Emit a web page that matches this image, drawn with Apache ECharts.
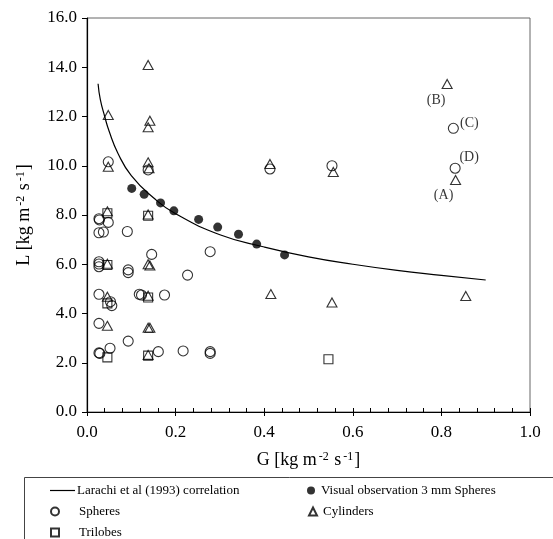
<!DOCTYPE html>
<html><head><meta charset="utf-8">
<script src="https://cdn.jsdelivr.net/npm/echarts@6/dist/echarts.min.js"></script>
<style>html,body{margin:0;padding:0;background:#fff}#c{width:553px;height:539px}</style>
</head><body><div id="c"></div>
<script>
// ---- data ----
const larachiG = [0.025,0.03,0.04,0.05,0.07,0.1,0.15,0.2,0.3,0.4,0.5,0.6,0.7,0.8,0.9];
const larachiL = [13.33,12.7,12.0,11.4,10.5,9.6,8.7,8.05,7.2,6.7,6.3,6.0,5.75,5.55,5.36];

const visualObs = [[0.101,9.08],[0.129,8.84],[0.166,8.49],[0.196,8.17],[0.252,7.82],[0.295,7.51],[0.342,7.22],[0.383,6.82],[0.446,6.38]];

const spheres = [[0.048,10.16],[0.138,9.83],[0.413,9.87],[0.553,10.0],
  [0.027,7.85],[0.028,7.80],[0.048,7.70],[0.027,7.28],[0.037,7.31],[0.091,7.33],
  [0.146,6.40],[0.027,6.10],[0.027,6.01],[0.027,5.90],[0.093,5.77],[0.093,5.66],
  [0.227,5.56],[0.278,6.51],[0.027,4.78],[0.053,4.48],[0.056,4.32],[0.118,4.78],
  [0.123,4.75],[0.175,4.75],[0.027,3.60],[0.093,2.88],[0.027,2.40],[0.029,2.38],
  [0.052,2.59],[0.161,2.45],[0.217,2.48],[0.278,2.45],[0.278,2.38],
  [0.827,11.52],[0.831,9.90]];

const cylinders = [[0.048,12.06],[0.048,9.96],[0.138,14.09],[0.142,11.83],[0.138,11.56],
  [0.138,10.14],[0.140,9.90],[0.046,8.15],[0.138,8.02],[0.046,6.02],[0.138,6.0],
  [0.142,5.95],[0.046,4.68],[0.138,4.72],[0.046,3.50],[0.138,3.42],[0.142,3.42],
  [0.138,2.32],[0.413,10.07],[0.556,9.75],[0.415,4.79],[0.553,4.45],
  [0.813,13.32],[0.832,9.42],[0.855,4.71]];

const trilobes = [[0.046,8.07],[0.138,7.97],[0.046,5.97],[0.046,4.41],[0.138,4.65],
  [0.046,2.22],[0.138,2.29],[0.545,2.14]];

const annLabels = ['(A)','(B)','(C)','(D)'];
const annPoints = [[0.832,9.42],[0.813,13.32],[0.827,11.52],[0.831,9.90]];

const xTicks = {min:0, max:1, interval:0.2};
const yTicks = {min:0, max:16, interval:2};
const seriesNames = ['Larachi et al (1993) correlation','Visual observation 3 mm Spheres','Spheres','Cylinders','Trilobes'];

// ---- chart ----
const FONT = 'Liberation Serif';
const chart = echarts.init(document.getElementById('c'), null, {renderer:'canvas'});
const hollow = {color:'rgba(0,0,0,0)', borderColor:'#000', borderWidth:1.1};
const annOffsets = [[-12,15],[-11,16],[16,-5],[14,-11]];
const supRich = {s:{fontFamily:FONT,fontSize:12,color:'#000',verticalAlign:'top',padding:[0,1,0,2]}};

const legendBase = {orient:'horizontal', padding:0, selectedMode:false, itemWidth:8, itemHeight:8,
  textStyle:{fontFamily:FONT, fontSize:13, color:'#000'}};

chart.setOption({
  animation:false,
  backgroundColor:'#fff',
  grid:{left:87, right:23, top:18, bottom:127, show:true, borderColor:'#666', borderWidth:1},
  xAxis:[{
    type:'value', min:xTicks.min, max:xTicks.max, interval:xTicks.interval,
    name:'G [kg m{s|-2} s{s|-1}]', nameLocation:'middle', nameGap:39,
    nameTextStyle:{fontFamily:FONT, fontSize:18, color:'#000', rich:supRich},
    axisLine:{lineStyle:{color:'#000', width:1.2}},
    axisTick:{inside:true, length:4, lineStyle:{color:'#000'}},
    minorTick:{show:true, splitNumber:5, length:4, lineStyle:{color:'#000'}},
    axisLabel:{fontFamily:FONT, fontSize:17, color:'#000', margin:12, formatter:v=>v.toFixed(1)},
    splitLine:{show:false}
  },{
    type:'value', min:xTicks.min, max:xTicks.max, interval:xTicks.interval, position:'bottom',
    axisLine:{show:false}, axisTick:{inside:false, length:4, lineStyle:{color:'#000'}},
    axisLabel:{show:false}, splitLine:{show:false}
  }],
  yAxis:[{
    type:'value', min:yTicks.min, max:yTicks.max, interval:yTicks.interval,
    name:'L [kg m{s|-2} s{s|-1}]', nameLocation:'middle', nameGap:54, nameRotate:90,
    nameTextStyle:{fontFamily:FONT, fontSize:18, color:'#000', rich:supRich},
    axisLine:{lineStyle:{color:'#000', width:1.2}},
    axisTick:{inside:false, length:5, lineStyle:{color:'#000'}},
    axisLabel:{fontFamily:FONT, fontSize:17, color:'#000', margin:10, formatter:v=>v.toFixed(1)},
    splitLine:{show:false}
  }],
  legend:[
    Object.assign({}, legendBase, {data:[{name:seriesNames[0], icon:'rect', itemStyle:{color:'#000'}}], left:50, top:484, itemWidth:25, itemHeight:1.2, textStyle:Object.assign({}, legendBase.textStyle, {padding:[0,0,0,-3]})}),
    Object.assign({}, legendBase, {data:[seriesNames[1]], left:307, top:484, textStyle:Object.assign({}, legendBase.textStyle, {padding:[0,0,0,1]})}),
    Object.assign({}, legendBase, {data:[seriesNames[2]], left:50, top:505, textStyle:Object.assign({}, legendBase.textStyle, {padding:[0,0,0,15]})}),
    Object.assign({}, legendBase, {data:[seriesNames[3]], left:308, top:505, textStyle:Object.assign({}, legendBase.textStyle, {padding:[0,0,0,1]})}),
    Object.assign({}, legendBase, {data:[seriesNames[4]], left:50, top:526, textStyle:Object.assign({}, legendBase.textStyle, {padding:[0,0,0,15]})})
  ],
  graphic:[{type:'rect', shape:{x:24.5, y:477.5, width:540, height:80}, style:{fill:'none', stroke:'#444', lineWidth:1}, silent:true}],
  series:[
    {name:seriesNames[0], type:'line', smooth:true, showSymbol:false, symbol:'none',
     data:larachiG.map((g,i)=>[g,larachiL[i]]), lineStyle:{color:'#000', width:1.2}, itemStyle:{color:'#000'}, z:2},
    {name:seriesNames[1], type:'scatter', symbol:'circle', symbolSize:9, data:visualObs, itemStyle:{color:'#000'}, z:3},
    {name:seriesNames[2], type:'scatter', symbol:'circle', symbolSize:10, data:spheres, itemStyle:hollow, z:3},
    {name:seriesNames[3], type:'scatter', symbol:'triangle', symbolSize:[10,9], data:cylinders, itemStyle:hollow, z:3},
    {name:seriesNames[4], type:'scatter', symbol:'rect', symbolSize:9, data:trilobes, itemStyle:hollow, z:3},
    {name:'annotations', type:'scatter', symbolSize:0, silent:true, z:4,
     data:annPoints.map((p,i)=>({value:p, label:{show:true, formatter:annLabels[i], position:'inside', offset:annOffsets[i],
       fontFamily:FONT, fontSize:14, color:'#000'}}))}
  ]
});
</script></body></html>
